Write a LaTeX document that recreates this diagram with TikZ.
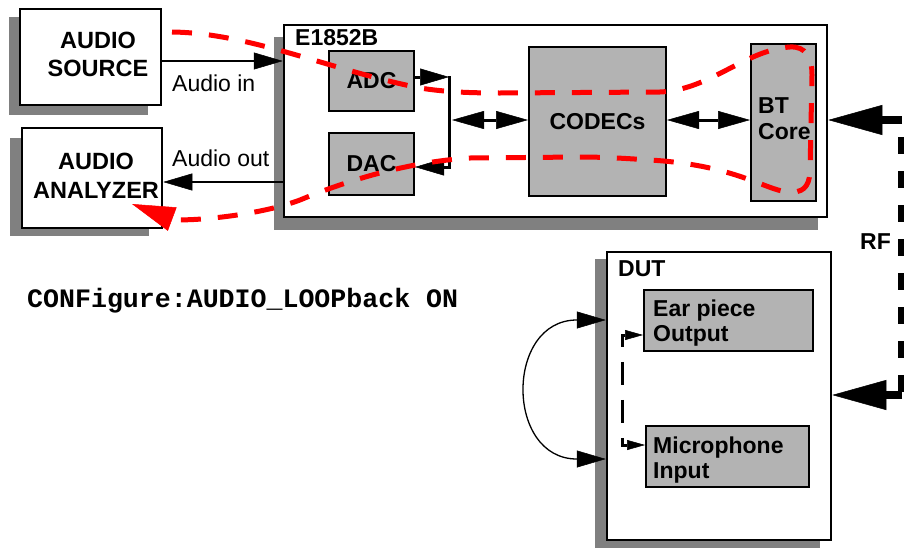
\documentclass[tikz,border=0pt]{standalone}
\usepackage{fontspec}
\setmainfont{Liberation Sans}
\newfontfamily\monob{Liberation Mono}
\usetikzlibrary{arrows.meta,calc}
\definecolor{shd}{HTML}{808080}
\definecolor{ingray}{HTML}{B3B3B3}
\definecolor{redline}{HTML}{FF0000}
\begin{document}
\begin{tikzpicture}[x=1pt,y=-1pt,
  Tm/.tip={Triangle[length=29pt,width=17pt,line width=0.5pt]},
  Tdbl/.tip={Triangle[length=32pt,width=18pt,line width=0.5pt]},
  Ts/.tip={Triangle[length=18pt,width=10pt,line width=0.5pt]},
  Trf/.tip={Triangle[length=54pt,width=30pt,line width=0.5pt]},
  Tred/.tip={Triangle[length=43pt,width=25pt,line width=0.5pt]},
  outerbox/.style={draw=black,line width=2.5pt,fill=white,inner sep=0pt},
  innerbox/.style={draw=black,line width=2pt,fill=ingray,inner sep=0pt,font=\fontsize{23}{27}\selectfont\bfseries},
  shadowfill/.style={fill=shd},
  boldlbl/.style={inner sep=0pt,font=\fontsize{23}{27}\selectfont\bfseries},
  plainlbl/.style={inner sep=0pt,font=\fontsize{23}{27}\selectfont},
  conn/.style={draw=black,line width=2.2pt},
  bus/.style={draw=black,line width=3pt},
  thinconn/.style={draw=black,line width=1.3pt},
  dashconn/.style={draw=black,line width=3pt,dash pattern=on 23pt off 15pt,dash phase=8pt},
  rfline/.style={draw=black,line width=8pt},
  redpath/.style={draw=redline,line width=5pt,dash pattern=on 20pt off 17pt}
]
\useasboundingbox (0,0) rectangle (904,549);

% shadows
\fill[shadowfill] (9,17) rectangle (148,115);
\fill[shadowfill] (10,138) rectangle (149,236);
\fill[shadowfill] (274,37) rectangle (818,230);
\fill[shadowfill] (595,259) rectangle (820,548);

% outer boxes
\node[outerbox,minimum width=141pt,minimum height=96pt] (src) at (90.5,57) {};
\node[outerbox,minimum width=140pt,minimum height=100pt] (ana) at (92,178) {};
\node[outerbox,minimum width=543pt,minimum height=192pt] (e18) at (555.5,121) {};
\node[outerbox,minimum width=224pt,minimum height=288pt] (dut) at (719,396) {};

% inner boxes
\node[innerbox,minimum width=85pt,minimum height=60pt] (adc) at (371.5,81) {ADC};
\node[innerbox,minimum width=85pt,minimum height=62pt] (dac) at (371.5,164) {DAC};
\node[innerbox,minimum width=137pt,minimum height=149pt] (codec) at (597.5,121.5) {CODECs};
\node[innerbox,minimum width=65pt,minimum height=157pt] (bt) at (783.5,122.5) {};
\node[innerbox,minimum width=169pt,minimum height=61pt] (ear) at (728.5,320.5) {};
\node[innerbox,minimum width=163pt,minimum height=61pt] (mic) at (727.5,456.5) {};

% texts
\node[boldlbl,align=center,anchor=north,font=\fontsize{23.5}{28}\selectfont\bfseries] (srcT) at (98,32) {AUDIO\\SOURCE};
\node[boldlbl,align=center,anchor=north,font=\fontsize{23.5}{29}\selectfont\bfseries] (anaT) at (96,153) {AUDIO\\ANALYZER};
\node[boldlbl,anchor=base west] (eT) at (295,45) {E1852B};
\node[boldlbl,align=left,anchor=north west,font=\fontsize{23}{26}\selectfont\bfseries] (btT) at (758,97) {BT\\Core};
\node[boldlbl,anchor=base west] (dutT) at (618,276) {DUT};
\node[boldlbl,align=left,anchor=north west,font=\fontsize{23}{25}\selectfont\bfseries] (earT) at (653,300) {Ear piece\\Output};
\node[boldlbl,align=left,anchor=north west,font=\fontsize{23}{25}\selectfont\bfseries] (micT) at (653,437) {Microphone\\Input};
\node[plainlbl,anchor=base west] (ainT) at (172,91) {Audio in};
\node[plainlbl,anchor=base west] (aoutT) at (172,166) {Audio out};
\node[boldlbl,anchor=base west] (rfT) at (860,249) {RF};
\node[anchor=base west,inner sep=0pt,font=\monob\bfseries\fontsize{26.6}{30}\selectfont] (cmd) at (27,307) {CONFigure:AUDIO\_LOOPback ON};

% audio in / out
\coordinate (ain) at (e18.west |- 0,61);
\draw[conn,-Tm] (src.east |- ain) -- (ain);
\coordinate (aout) at (e18.west |- 0,182);
\draw[conn,-Tm] (aout) -- (ana.east |- aout);

% bus
\coordinate (b1) at (449,77);
\coordinate (b2) at (449,167);
\coordinate (bm) at (452,120);
\draw[bus,-Tm] (adc.east |- b1) -- (b1);
\draw[bus,line cap=rect,-Tm] (b1) -- (b2) -- (dac.east |- b2);
\draw[bus,Tdbl-Tdbl] (bm) -- (codec.west |- bm);
\coordinate (cb) at (666,120);
\draw[bus,Tdbl-Tdbl] (codec.east |- cb) -- (bt.west |- cb);

% RF
\coordinate (rfa) at (902,120);
\coordinate (rfb) at (902,395);
\draw[rfline,-Trf] (rfa) -- (e18.east |- rfa);
\draw[rfline,dash pattern=on 17pt off 17pt,dash phase=17pt] (rfa) -- (rfb);
\draw[rfline,-Trf] (rfb) -- (dut.east |- rfb);

% DUT loop
\coordinate (la) at (dut.west |- 0,320);
\coordinate (lb) at (dut.west |- 0,459);
\draw[thinconn,Tm-Tm] (la) .. controls (505,320) and (505,459) .. (lb);
\coordinate (dk) at (622,335);
\coordinate (dl) at (622,445);
\draw[dashconn,Ts-Ts] (ear.west |- dk) -- (dk) -- (dl) -- (mic.west |- dl);

% red audio path
\coordinate (rs) at (172,32);
\coordinate (rt) at (132,204);
\draw[redpath,-Tred] (rs) .. controls (250,33) and (330,70) .. (420,88)
  .. controls (445,92) and (470,93) .. (500,93) -- (660,92)
  .. controls (710,90) and (745,50) .. (790,47)
  .. controls (806,46) and (812,58) .. (812,75) -- (810,172)
  .. controls (809,188) and (802,193) .. (788,192)
  .. controls (765,190) and (735,165) .. (650,160)
  .. controls (620,158) and (600,157) .. (580,157) -- (470,158)
  .. controls (420,161) and (360,175) .. (300,200)
  .. controls (255,217) and (180,222) .. (rt);
\end{tikzpicture}
\end{document}
